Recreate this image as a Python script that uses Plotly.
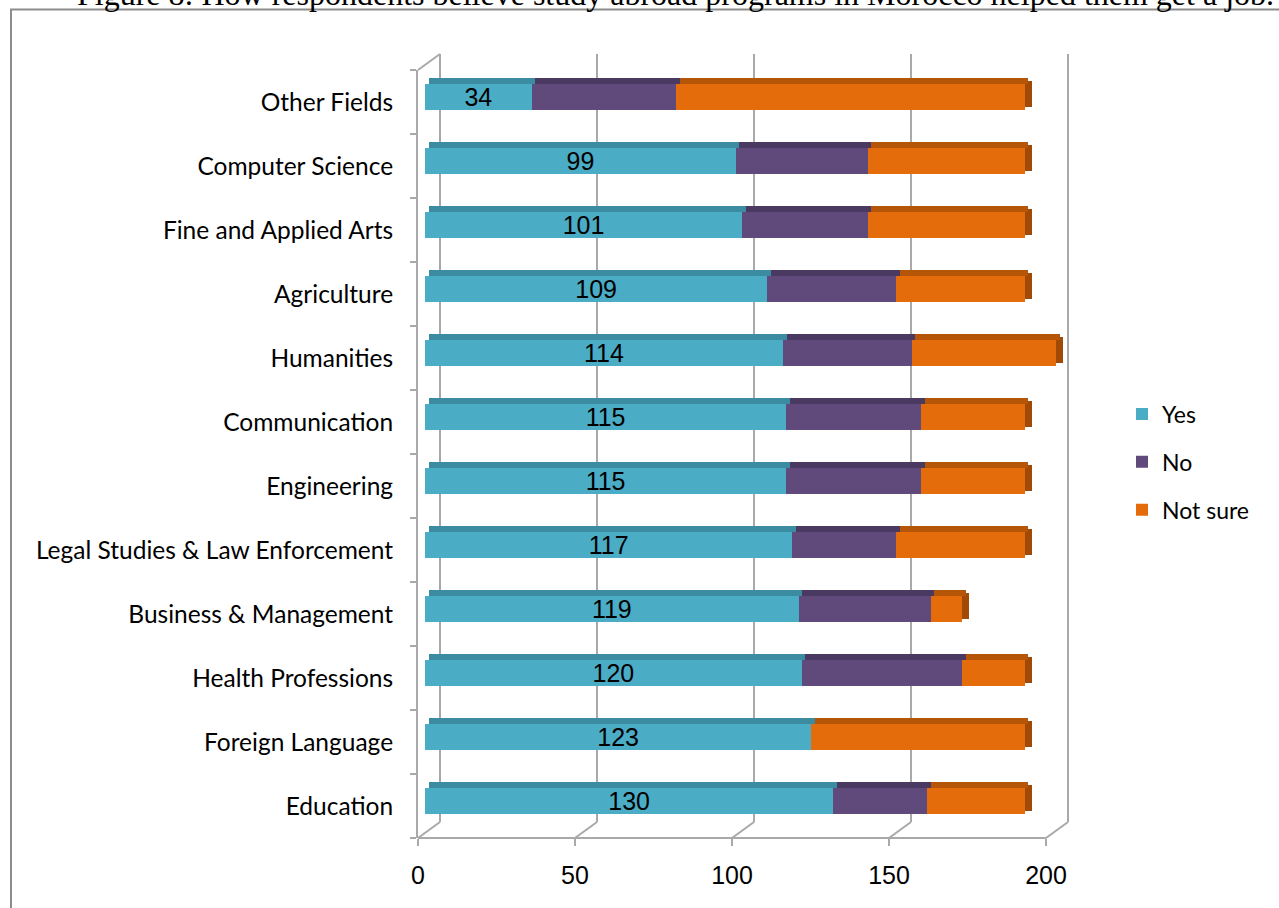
import plotly.graph_objects as go

# ---- data -------------------------------------------------------------
categories = [
    "Education", "Foreign Language", "Health Professions",
    "Business & Management", "Legal Studies & Law Enforcement",
    "Engineering", "Communication", "Humanities", "Agriculture",
    "Fine and Applied Arts", "Computer Science", "Other Fields",
]
yes = [130, 123, 120, 119, 117, 115, 115, 114, 109, 101, 99, 34]
no = [30, 0, 51, 42, 33, 43, 43, 41, 41, 40, 42, 46]
not_sure = [31, 68, 20, 10, 41, 33, 33, 46, 41, 50, 50, 111]
x_ticks = [0, 50, 100, 150, 200]

title = ("Figure 8: How respondents believe study abroad programs "
         "in Morocco helped them get a job.")

# ---- page geometry (pixels) ------------------------------------------
FIG_W, FIG_H = 1279, 908
PLOT_L, PLOT_T, PLOT_B = 418, 70, 838
AXIS_END = 1046                            # pixel of the last tick (200)
PLOT_R = 1080                              # drawing area continues past it
X_MAX = 200
SCALE = (AXIS_END - PLOT_L) / X_MAX        # px per unit on the front plane
X_RANGE_MAX = (PLOT_R - PLOT_L) / SCALE
BAND = (PLOT_B - PLOT_T) / len(categories)  # px per category band
DEPTH_X, DEPTH_Y = 22, 16                  # 3-D depth of the chart walls
BAR_DX, BAR_DY = 7, 5                      # bar front face sits inside the box
TOP_PX = 6                                 # visible top face of each bar

def px_x(p):
    return (p - PLOT_L) / (PLOT_R - PLOT_L)

def px_y(p):
    return (PLOT_B - p) / (PLOT_B - PLOT_T)

COLORS = {
    "Yes": ("#4BACC6", "#3B8BA1"),
    "No": ("#604A7B", "#4A3961"),
    "Not sure": ("#E46C0A", "#B55508"),
}
SIDE_COLOR = "#A04A05"
GRID = "#A9A9A9"

NUM_FONT = "Liberation Sans Narrow, Liberation Sans, sans-serif"
TXT_FONT = "Lato, Carlito, Calibri, sans-serif"

bar_h = 26 / BAND
bar_off = -bar_h / 2 + BAR_DY / BAND
top_h = TOP_PX / BAND
top_off = bar_off + bar_h

fig = go.Figure()

# keeps the front-plane axis pair alive (holds no data)
fig.add_trace(go.Scatter(x=[None], y=[None], xaxis="x", yaxis="y",
                         mode="markers", showlegend=False, hoverinfo="skip"))

series = [("Yes", yes), ("No", no), ("Not sure", not_sure)]

# front faces
for name, vals in series:
    front, _ = COLORS[name]
    fig.add_trace(go.Bar(
        name=name, y=categories, x=vals, orientation="h",
        xaxis="x2", yaxis="y",
        width=bar_h, offset=bar_off,
        marker=dict(color=front, line=dict(width=0)),
        legendgroup=name,
        text=vals if name == "Yes" else None,
        textposition="inside" if name == "Yes" else "none",
        insidetextanchor="middle", textangle=0, constraintext="none",
        textfont=dict(family=NUM_FONT, size=25, color="black"),
        hoverinfo="x+y+name",
    ))

# top faces (slightly shifted back to suggest depth)
for name, vals in series:
    _, top = COLORS[name]
    fig.add_trace(go.Bar(
        name=name, y=categories, x=vals, orientation="h",
        xaxis="x3", yaxis="y",
        width=top_h, offset=top_off,
        marker=dict(color=top, line=dict(width=0)),
        showlegend=False, hoverinfo="skip", legendgroup=name,
    ))

# right-hand end face of each stacked bar
fig.add_trace(go.Bar(
    y=categories, x=[BAR_DX / SCALE] * len(categories), orientation="h",
    xaxis="x2", yaxis="y",
    width=bar_h, offset=bar_off + top_h / 2,
    marker=dict(color=SIDE_COLOR, line=dict(width=0)),
    showlegend=False, hoverinfo="skip",
))

# ---- 3-D box walls ----------------------------------------------------
def seg(x0, y0, x1, y1, color=GRID, width=2):
    return dict(type="line", xref="paper", yref="paper",
                x0=px_x(x0), x1=px_x(x1), y0=px_y(y0), y1=px_y(y1),
                line=dict(color=color, width=width), layer="below")

shapes = []
for t in x_ticks:
    fx = PLOT_L + t * SCALE
    shapes.append(seg(fx + DEPTH_X, PLOT_B - DEPTH_Y,
                      fx + DEPTH_X, PLOT_T - DEPTH_Y))       # back wall
    shapes.append(seg(fx, PLOT_B, fx + DEPTH_X, PLOT_B - DEPTH_Y))  # floor
shapes.append(seg(PLOT_L, PLOT_T, PLOT_L + DEPTH_X, PLOT_T - DEPTH_Y))
shapes.append(seg(PLOT_L, PLOT_B, AXIS_END, PLOT_B))           # front floor edge
# outer frame
shapes.append(dict(type="rect", xref="paper", yref="paper",
                   x0=px_x(11), x1=px_x(FIG_W + 20),
                   y0=px_y(FIG_H + 20), y1=px_y(9.5),
                   line=dict(color="#8C8C8C", width=2), layer="below"))

bar_shift = BAR_DX / SCALE
top_shift = (BAR_DX + TOP_PX * 0.6) / SCALE

fig.update_layout(
    width=FIG_W, height=FIG_H,
    margin=dict(l=PLOT_L, r=FIG_W - PLOT_R, t=PLOT_T, b=FIG_H - PLOT_B,
                autoexpand=False),
    paper_bgcolor="white", plot_bgcolor="rgba(0,0,0,0)",
    barmode="stack", showlegend=True,
    font=dict(family=TXT_FONT, size=23, color="black"),
    xaxis=dict(range=[0, X_RANGE_MAX], tickvals=x_ticks, anchor="y",
               showgrid=False, zeroline=False, showline=False,
               ticks="outside", ticklen=7, tickwidth=2, tickcolor=GRID,
               tickfont=dict(family=NUM_FONT, size=25, color="black"),
               ticklabelstandoff=8),
    xaxis2=dict(overlaying="x", anchor="y", visible=False,
                range=[-bar_shift, X_RANGE_MAX - bar_shift]),
    xaxis3=dict(overlaying="x", anchor="y", visible=False,
                range=[-top_shift, X_RANGE_MAX - top_shift]),
    yaxis=dict(type="category", categoryorder="array",
               categoryarray=categories, anchor="x",
               range=[-0.5, len(categories) - 0.5],
               tickson="boundaries", ticks="outside", ticklen=6,
               tickwidth=2, tickcolor=GRID, showgrid=False, zeroline=False,
               showline=True, linecolor=GRID, linewidth=2,
               tickfont=dict(family=TXT_FONT, size=24.5, color="black"),
               ticklabelstandoff=18),
    legend=dict(x=px_x(1122), xanchor="left", y=px_y(462), yanchor="middle",
                traceorder="grouped", tracegroupgap=15,
                font=dict(family=TXT_FONT, size=23, color="black"),
                bgcolor="rgba(0,0,0,0)"),
    shapes=shapes,
    annotations=[dict(text=title, xref="paper", yref="paper",
                      x=px_x(675), y=px_y(14), xanchor="center",
                      yanchor="bottom", showarrow=False,
                      font=dict(family="Liberation Serif, Times New Roman, serif",
                                size=32, color="black"))],
)

fig.write_html("out.html")
